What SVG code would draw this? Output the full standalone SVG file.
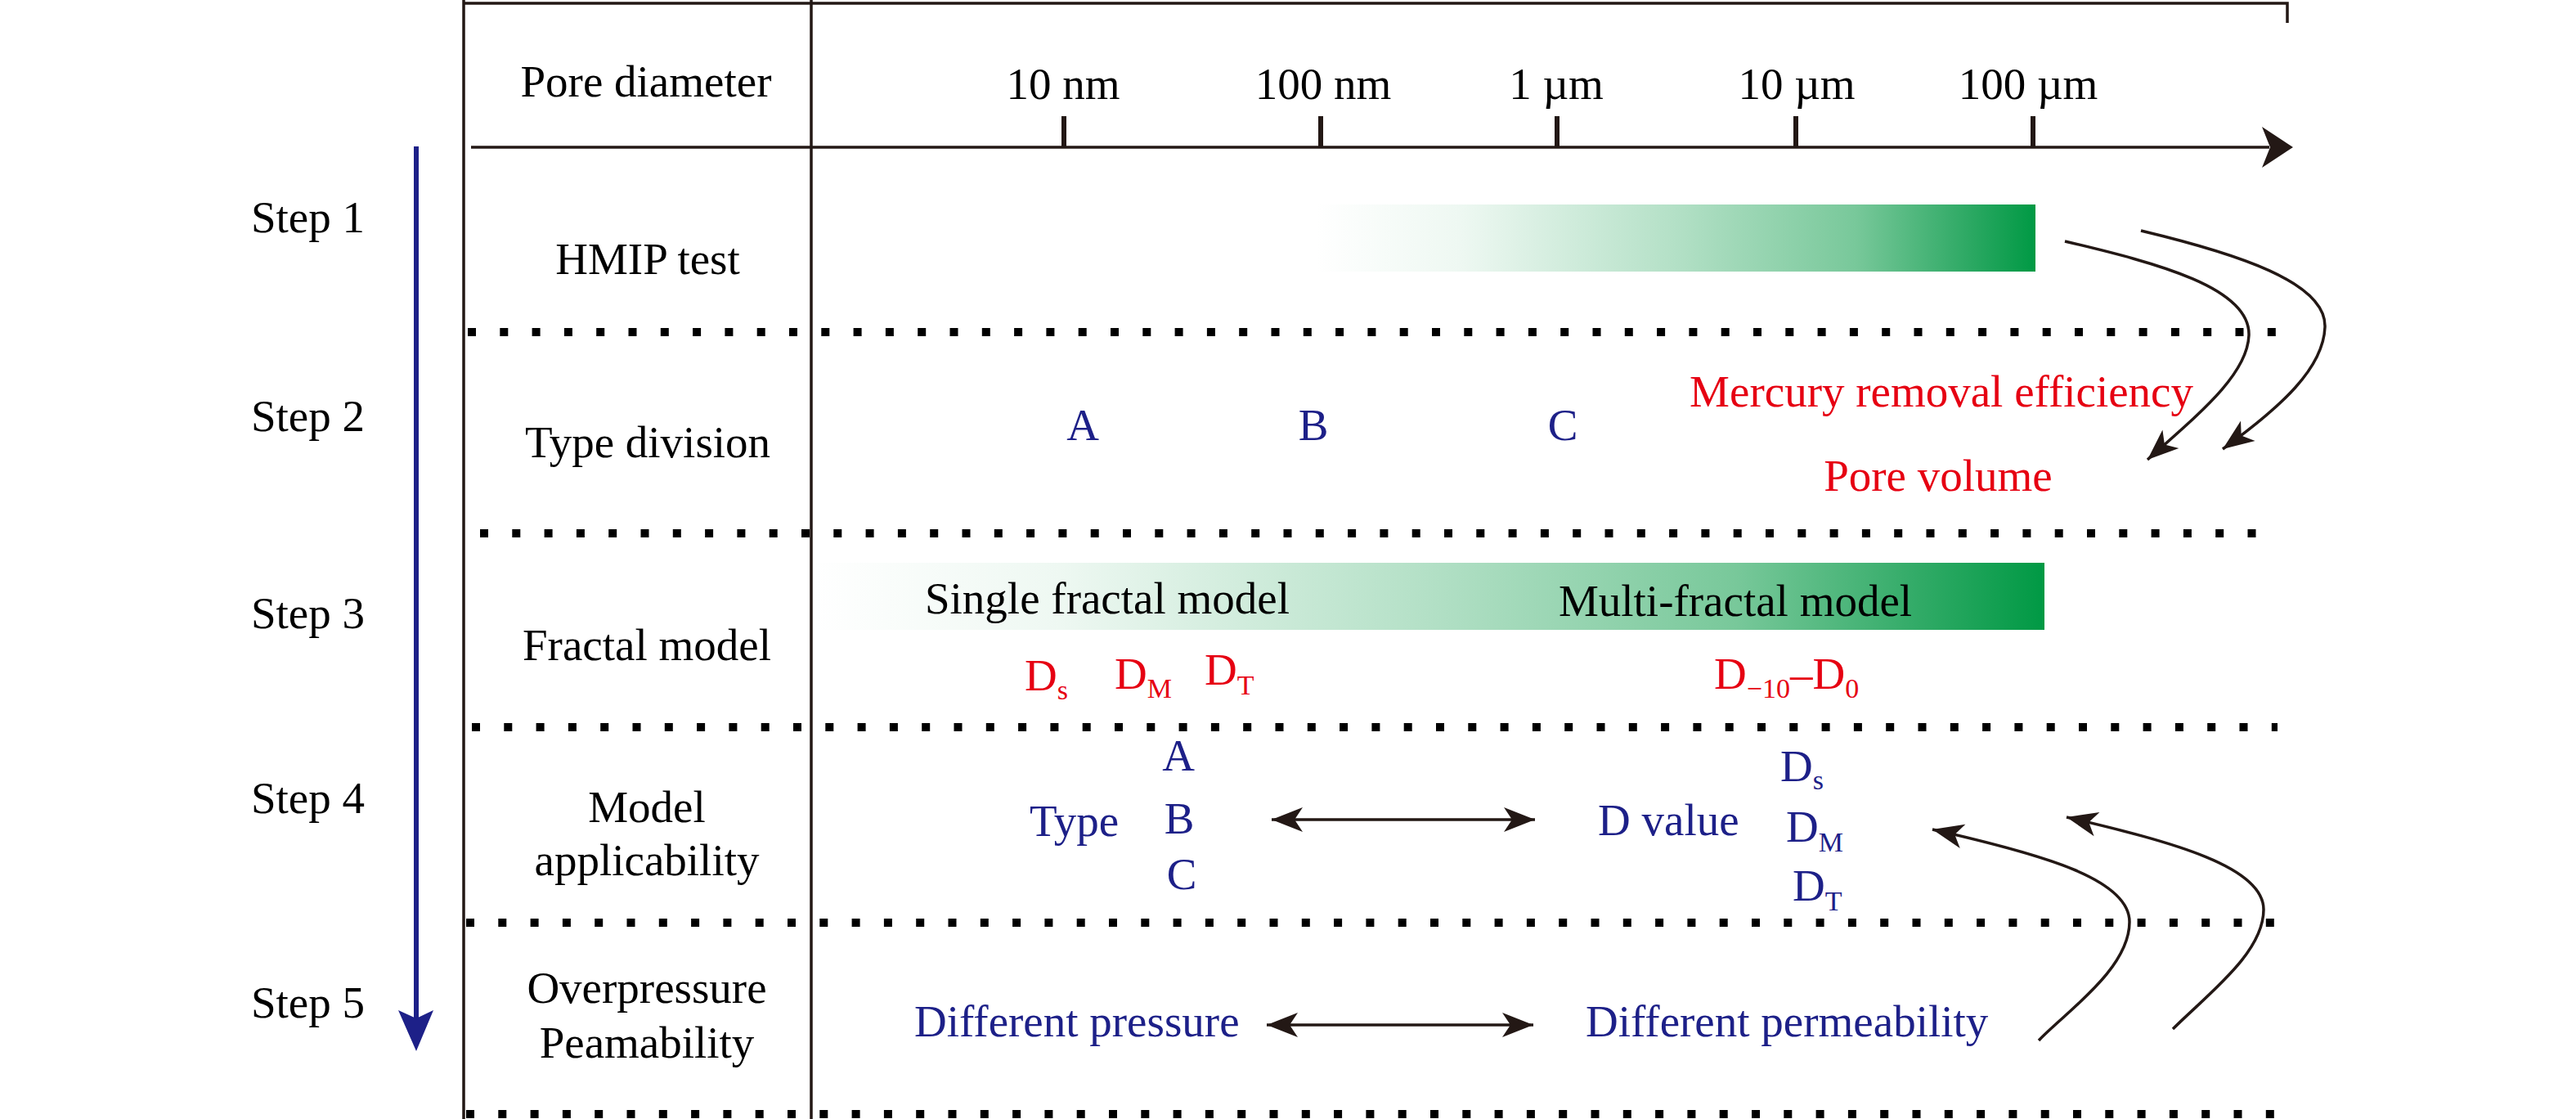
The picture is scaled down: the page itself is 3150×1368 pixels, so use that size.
<svg xmlns="http://www.w3.org/2000/svg" width="3150" height="1368" viewBox="0 0 3150 1368">
<style>
text{font-family:"Liberation Serif","Times New Roman",serif;font-size:55px;fill:#000}
.red{fill:#e60012}
.blue{fill:#1d2088}
.mid{text-anchor:middle}
.frame{stroke:#231815;stroke-width:3.5;fill:none}
.dots{stroke:#000;stroke-width:10;stroke-dasharray:10 29.3;fill:none}
.conn{stroke:#231815;stroke-width:3.5;fill:none}
.sub{font-size:34px}
</style>
<defs>
<linearGradient id="grn" x1="0" y1="0" x2="1" y2="0">
<stop offset="0" stop-color="#ffffff"/>
<stop offset="0.2" stop-color="#eef8f2"/>
<stop offset="0.5" stop-color="#b3e0c6"/>
<stop offset="0.75" stop-color="#78c89a"/>
<stop offset="0.9" stop-color="#30aa66"/>
<stop offset="1" stop-color="#009944"/>
</linearGradient>
<marker id="ah" viewBox="-40 -17 42 34" markerWidth="42" markerHeight="34" refX="0" refY="0" orient="auto-start-reverse" markerUnits="userSpaceOnUse">
<path d="M0,0 L-38,-15 L-28,0 L-38,15 Z" fill="#231815"/>
</marker>
</defs>
<rect width="3150" height="1368" fill="#fff"/>

<g id="frame">
<path class="frame" d="M567,0 V1368 M992,0 V1368 M567,4 H2797 V28"/>
</g>

<g id="axis">
<path d="M576,180 H2775" stroke="#231815" stroke-width="3.5"/>
<path d="M2804,180 L2766,155 L2776,180 L2766,205 Z" fill="#231815"/>
<path d="M1301,142 V180 M1615,142 V180 M1904,142 V180 M2196,142 V180 M2486,142 V180" stroke="#231815" stroke-width="6"/>
<text class="mid" x="1300" y="121">10 nm</text>
<text class="mid" x="1618" y="121">100 nm</text>
<text class="mid" x="1903" y="121">1 µm</text>
<text class="mid" x="2197" y="121">10 µm</text>
<text class="mid" x="2480" y="121">100 µm</text>
</g>

<g id="separators">
<path class="dots" d="M572,406 H2790"/>
<path class="dots" d="M587,652 H2770"/>
<path class="dots" d="M577,889 H2785"/>
<path class="dots" d="M570,1128 H2785"/>
<path class="dots" d="M570,1362 H2785"/>
</g>

<g id="step-arrow">
<path d="M509,179 V1245" stroke="#1d2088" stroke-width="6"/>
<path d="M509,1285 L487,1235 L509,1245 L530,1235 Z" fill="#1d2088"/>
</g>

<g id="steps">
<text x="307" y="284">Step 1</text>
<text x="307" y="527">Step 2</text>
<text x="307" y="768">Step 3</text>
<text x="307" y="994">Step 4</text>
<text x="307" y="1244">Step 5</text>
</g>

<g id="row-labels">
<text class="mid" x="790" y="118">Pore diameter</text>
<text class="mid" x="792" y="335">HMIP test</text>
<text class="mid" x="792" y="559">Type division</text>
<text class="mid" x="791" y="807">Fractal model</text>
<text class="mid" x="791" y="1005">Model</text>
<text class="mid" x="791" y="1070">applicability</text>
<text class="mid" x="791" y="1226">Overpressure</text>
<text class="mid" x="791" y="1293">Peamability</text>
</g>

<g id="hmip-bar">
<rect x="1610" y="250" width="879" height="82" fill="url(#grn)"/>
</g>

<g id="type-division">
<text class="blue mid" x="1324" y="538">A</text>
<text class="blue mid" x="1606" y="538">B</text>
<text class="blue mid" x="1911" y="538">C</text>
<text class="red" x="2682" y="497" text-anchor="end">Mercury removal efficiency</text>
<text class="red mid" x="2370" y="600">Pore volume</text>
</g>

<g id="fractal-model">
<rect x="995" y="688" width="1505" height="82" fill="url(#grn)"/>
<text x="1131" y="750">Single fractal model</text>
<text class="mid" x="2122" y="753">Multi-fractal model</text>
<text class="red" x="1253" y="844">D<tspan class="sub" dy="11">s</tspan></text>
<text class="red" x="1363" y="842">D<tspan class="sub" dy="11">M</tspan></text>
<text class="red" x="1473" y="837">D<tspan class="sub" dy="12">T</tspan></text>
<text class="red" x="2096" y="842">D<tspan class="sub" dy="11">−10</tspan><tspan dy="-11">–D</tspan><tspan class="sub" dy="11">0</tspan></text>
</g>

<g id="model-applicability">
<text class="blue" x="1259" y="1022">Type</text>
<text class="blue mid" x="1441" y="942">A</text>
<text class="blue mid" x="1442" y="1019">B</text>
<text class="blue mid" x="1445" y="1087">C</text>
<text class="blue" x="1954" y="1021">D value</text>
<text class="blue" x="2177" y="955">D<tspan class="sub" dy="10">s</tspan></text>
<text class="blue" x="2184" y="1029">D<tspan class="sub" dy="12">M</tspan></text>
<text class="blue" x="2192" y="1101">D<tspan class="sub" dy="12">T</tspan></text>
</g>

<g id="overpressure">
<text class="blue" x="1118" y="1267">Different pressure</text>
<text class="blue" x="1939" y="1267">Different permeability</text>
</g>

<g id="connectors">
<path class="conn" d="M1555,1002 H1877" marker-start="url(#ah)" marker-end="url(#ah)"/>
<path class="conn" d="M1549,1253 H1875" marker-start="url(#ah)" marker-end="url(#ah)"/>
<path class="conn" d="M2525,295 C2640,322 2752,352 2750,410 C2748,458 2690,505 2626,562" marker-end="url(#ah)"/>
<path class="conn" d="M2618,282 C2735,310 2845,345 2843,400 C2841,450 2790,497 2718,549" marker-end="url(#ah)"/>
<path class="conn" d="M2493,1272 C2525,1238 2604,1185 2604,1127 C2604,1075 2500,1045 2363,1014" marker-end="url(#ah)"/>
<path class="conn" d="M2657,1258 C2700,1215 2768,1165 2768,1112 C2768,1060 2660,1030 2527,999" marker-end="url(#ah)"/>
</g>
</svg>
